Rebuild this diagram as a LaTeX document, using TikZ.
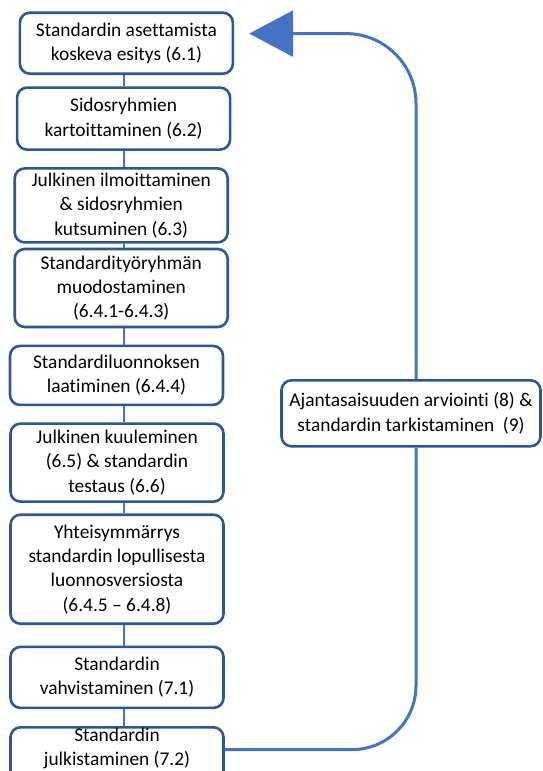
\documentclass[tikz,border=0pt]{standalone}
\usepackage{fontspec}
\setmainfont{Carlito}[Ligatures=NoCommon]
\usetikzlibrary{arrows.meta}

\definecolor{boxblue}{HTML}{2F5597}
\definecolor{lineblue}{HTML}{4472C4}

\tikzset{
  stepbox/.style={draw=boxblue, line width=2.6pt, rounded corners=10pt, fill=white,
    minimum width=213pt, inner sep=2pt, align=center,
    font=\fontsize{19.4}{24.3}\selectfont},
  link/.style={lineblue, line width=2.4pt},
  loopline/.style={lineblue, line width=3pt}
}

\begin{document}
\begin{tikzpicture}[x=1pt,y=-1pt]

\useasboundingbox (0,0) rectangle (543,771);
\clip (0,0) rectangle (543,771);

\coordinate (sp) at (124,0);
\coordinate (lp) at (416,0);

\node[stepbox, minimum height=61pt] (s1) at (126.4,43.2) {Standardin asettamista\\koskeva esitys (6.1)};
\node[stepbox, minimum height=62pt] (s2) at (123.6,118.6) {Sidosryhmien\\kartoittaminen (6.2)};
\node[stepbox, minimum height=74pt] (s3) at (121.2,205.4) {Julkinen ilmoittaminen\\\& sidosryhmien\\kutsuminen (6.3)};
\node[stepbox, minimum height=78pt] (s4) at (121.2,288) {Standardityöryhmän\\muodostaminen\\(6.4.1-6.4.3)};
\node[stepbox, minimum height=59pt] (s5) at (116.5,375.4) {Standardiluonnoksen\\laatiminen (6.4.4)};
\node[stepbox, minimum height=78pt] (s6) at (117,462.6) {Julkinen kuuleminen\\(6.5) \& standardin\\testaus (6.6)};
\node[stepbox, minimum height=109pt] (s7) at (117,569.2) {Yhteisymmärrys\\standardin lopullisesta\\luonnosversiosta\\(6.4.5 – 6.4.8)};
\node[stepbox, minimum height=61pt] (s8) at (117,677.4) {Standardin\\vahvistaminen (7.1)};
% last box runs off the bottom edge
\node[stepbox, anchor=north, inner ysep=0pt, text height=38.3pt, text depth=30pt] (s9) at (117,726) {Standardin\\julkistaminen (7.2)};

\node[stepbox, minimum width=259pt, minimum height=66pt] (rev) at (411,413.3) {Ajantasaisuuden arviointi (8) \&\\standardin tarkistaminen\ \ (9)};

\foreach \a/\b in {s1/s2,s2/s3,s3/s4,s4/s5,s5/s6,s6/s7,s7/s8,s8/s9}
  \draw[link] (\a.south -| sp) -- (\b.north -| sp);

\draw[loopline, rounded corners=64pt] ([yshift=-23.6pt]s9.north east) -| (rev.south -| lp);
\draw[loopline, rounded corners=70pt, -{Triangle[length=44pt,width=46pt]}] (rev.north -| lp) |- ([xshift=15pt,yshift=9.6pt]s1.east);

\end{tikzpicture}
\end{document}
